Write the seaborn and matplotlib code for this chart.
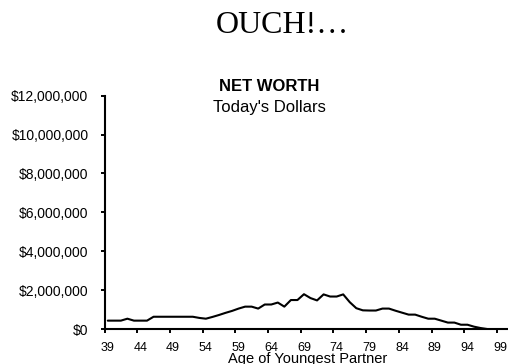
import matplotlib
matplotlib.use("Agg")
import matplotlib.pyplot as plt
import seaborn as sns
import pandas as pd
import numpy as np
from matplotlib.ticker import FixedLocator, FuncFormatter

ages = list(range(39, 98))
net_worth_m = [0.43, 0.43, 0.43, 0.53, 0.43, 0.43, 0.43, 0.63, 0.63, 0.63,
               0.63, 0.63, 0.63, 0.63, 0.57, 0.53, 0.62, 0.72, 0.83, 0.93,
               1.05, 1.15, 1.15, 1.05, 1.26, 1.26, 1.36, 1.15, 1.49, 1.49,
               1.79, 1.59, 1.47, 1.78, 1.67, 1.67, 1.78, 1.38, 1.07, 0.96,
               0.95, 0.95, 1.05, 1.05, 0.94, 0.84, 0.74, 0.74, 0.63, 0.53,
               0.53, 0.43, 0.33, 0.33, 0.22, 0.22, 0.12, 0.05, 0.0]
y_ticks = [0, 2e6, 4e6, 6e6, 8e6, 10e6, 12e6]
x_labels = list(range(39, 100, 5))

df = pd.DataFrame({"age": ages, "net_worth": np.array(net_worth_m) * 1e6})

sns.set_style("ticks")
plt.rcParams["font.family"] = ["Liberation Sans", "DejaVu Sans"]

W, H = 508, 364
fig = plt.figure(figsize=(W / 100, H / 100), dpi=100)
left, right, top, bottom = 104.5, 508.0, 95.7, 329.0
ax = fig.add_axes([left / W, (H - bottom) / H, (right - left) / W, (bottom - top) / H])

sns.lineplot(data=df, x="age", y="net_worth", ax=ax, color="black", linewidth=1.5)

ax.set_xlim(38.5, 38.5 + (right - left) / 6.54)
ax.set_ylim(0, 12e6)
ax.yaxis.set_major_locator(FixedLocator(y_ticks))
ax.yaxis.set_major_formatter(FuncFormatter(lambda v, p: "$0" if v == 0 else f"${v:,.0f}"))
ax.xaxis.set_major_locator(FixedLocator(x_labels))
ax.xaxis.set_minor_locator(FixedLocator([a - 0.5 for a in x_labels]))
ax.tick_params(axis="x", which="major", length=0, pad=9.5, labelsize=9, labelcolor="black")
ax.tick_params(axis="x", which="minor", length=3, width=1.4, direction="out", color="black")
ax.tick_params(axis="y", which="major", length=3, width=1.4, direction="out", pad=8.5,
               labelsize=10, color="black", labelcolor="black")

for s in ["top", "right"]:
    ax.spines[s].set_visible(False)
for s in ["left", "bottom"]:
    ax.spines[s].set_linewidth(1.5)
    ax.spines[s].set_color("black")
ax.set_xlabel("")
ax.set_ylabel("")
ax.set_facecolor("white")

fig.text(282.5 / W, 1 - 33 / H, "OUCH!\u2026", ha="center", va="baseline",
         fontsize=23, family=["Liberation Serif", "DejaVu Serif"], color="black")
fig.text(269 / W, 1 - 91 / H, "NET WORTH", ha="center", va="baseline",
         fontsize=12, fontweight="bold", color="black")
fig.text(269 / W, 1 - 112 / H, "Today's Dollars", ha="center", va="baseline",
         fontsize=12, color="black")
fig.text(308 / W, 1 - 362.5 / H, "Age of Youngest Partner", ha="center", va="baseline",
         fontsize=10.5, color="black")

fig.savefig("out.png", dpi=100, facecolor="white")
